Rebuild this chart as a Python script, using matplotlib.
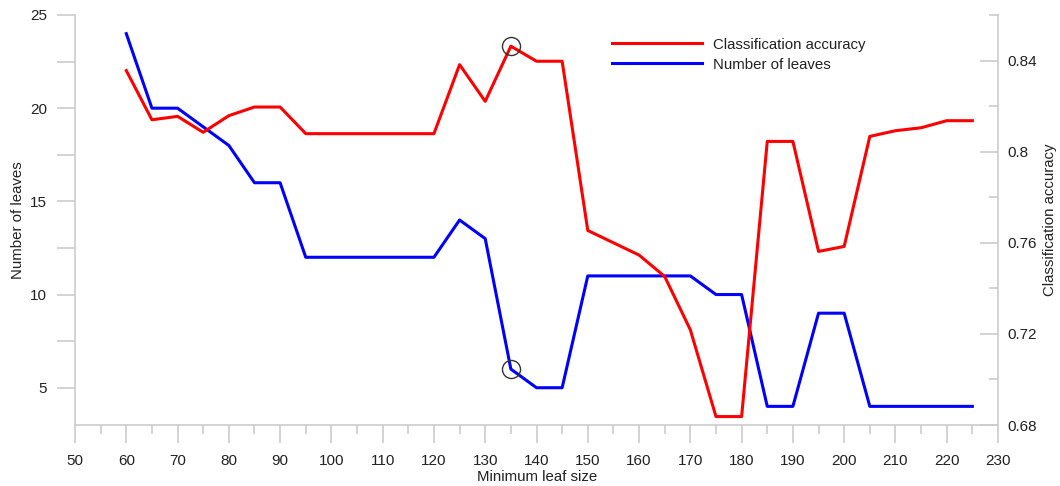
import numpy as np
import matplotlib
matplotlib.use("Agg")
import matplotlib.pyplot as plt
from matplotlib.ticker import MultipleLocator

plt.rcParams['font.family'] = ['Liberation Sans', 'DejaVu Sans']

# data
leaf_size = [60, 65, 70, 75, 80, 85, 90, 95, 100, 105, 110, 115, 120, 125, 130,
             135, 140, 145, 150, 155, 160, 165, 170, 175, 180, 185, 190, 195,
             200, 205, 210, 215, 220, 225]
n_leaves = [24, 20, 20, 19, 18, 16, 16, 12, 12, 12, 12, 12, 12, 14, 13,
            6, 5, 5, 11, 11, 11, 11, 11, 10, 10, 4, 4, 9,
            9, 4, 4, 4, 4, 4]
accuracy = [0.8356, 0.814, 0.8155, 0.8085, 0.8158, 0.8196, 0.8196, 0.8079, 0.8079,
            0.8079, 0.8079, 0.8079, 0.8079, 0.8382, 0.8221, 0.8463, 0.8397, 0.8397,
            0.7654, 0.760, 0.7546, 0.7452, 0.7218, 0.6837, 0.6837, 0.8045, 0.8045,
            0.7562, 0.7584, 0.8067, 0.8092, 0.8105, 0.8136, 0.8136]
best_size = 135
best_leaves = 6
best_acc = 0.8463

spine_col = "#cccccc"
txt_col = "#222222"

fig = plt.figure(figsize=(10.6, 4.86), dpi=100)
ax = fig.add_axes([75/1060, 61/486, 923/1060, 410/486])
ax2 = ax.twinx()

ax.plot(leaf_size, n_leaves, color="#0000ff", lw=2.2, label="Number of leaves")
ax2.plot(leaf_size, accuracy, color="#ff0000", lw=2.2, label="Classification accuracy")

# highlighted optimum
ax.plot([best_size], [best_leaves], "o", ms=13, mfc="none", mec="#333333", mew=1)
ax2.plot([best_size], [best_acc], "o", ms=13, mfc="none", mec="#333333", mew=1)

ax.set_xlim(50, 230)
ax.set_ylim(3, 25)
ax2.set_ylim(0.68, 0.86)

ax.xaxis.set_major_locator(MultipleLocator(10))
ax.xaxis.set_minor_locator(MultipleLocator(5))
ax.yaxis.set_major_locator(MultipleLocator(5))
ax.yaxis.set_minor_locator(MultipleLocator(2.5))
ax2.yaxis.set_minor_locator(MultipleLocator(0.02))
ax2.set_yticks([0.68, 0.72, 0.76, 0.8, 0.84])
ax2.set_yticklabels(["0.68", "0.72", "0.76", "0.8", "0.84"])

for a in (ax, ax2):
    a.spines["top"].set_visible(False)
    for s in a.spines.values():
        s.set_color(spine_col)
        s.set_linewidth(1.2)
ax2.spines["left"].set_visible(False)
ax2.spines["bottom"].set_visible(False)
ax.spines["right"].set_visible(False)

ax.tick_params(axis="x", which="major", direction="out", length=13, width=1.2,
               color=spine_col, labelsize=11, labelcolor=txt_col, pad=8)
ax.tick_params(axis="x", which="minor", direction="out", length=6.5, width=1.2, color=spine_col)
ax.tick_params(axis="y", which="both", direction="out", length=13, width=1.2,
               color=spine_col, labelsize=11, labelcolor=txt_col, pad=7)
ax2.tick_params(axis="y", which="major", direction="in", length=13, width=1.2,
                color=spine_col, labelsize=11, labelcolor=txt_col, pad=7)
ax2.tick_params(axis="y", which="minor", direction="in", length=6.5, width=1.2, color=spine_col)

ax.set_xlabel("Minimum leaf size", fontsize=10.8, color=txt_col)
ax.xaxis.set_label_coords(0.501, -0.11)
ax.set_ylabel("Number of leaves", fontsize=10.8, color=txt_col)
ax.yaxis.set_label_coords(-0.054, 0.5)
ax2.set_ylabel("Classification accuracy", fontsize=10.8, color=txt_col)
ax2.yaxis.set_label_coords(1.049, 0.5)

h2, l2 = ax2.get_legend_handles_labels()
h1, l1 = ax.get_legend_handles_labels()
leg = ax2.legend(h2[:1] + h1[:1], l2[:1] + l1[:1], loc="upper left",
                 bbox_to_anchor=(0.582, 0.945), frameon=False, fontsize=10.8,
                 handlelength=6.0, handletextpad=0.75, labelspacing=0.4,
                 borderpad=0, borderaxespad=0)
for t in leg.get_texts():
    t.set_color(txt_col)

fig.savefig("out.png", dpi=100)
